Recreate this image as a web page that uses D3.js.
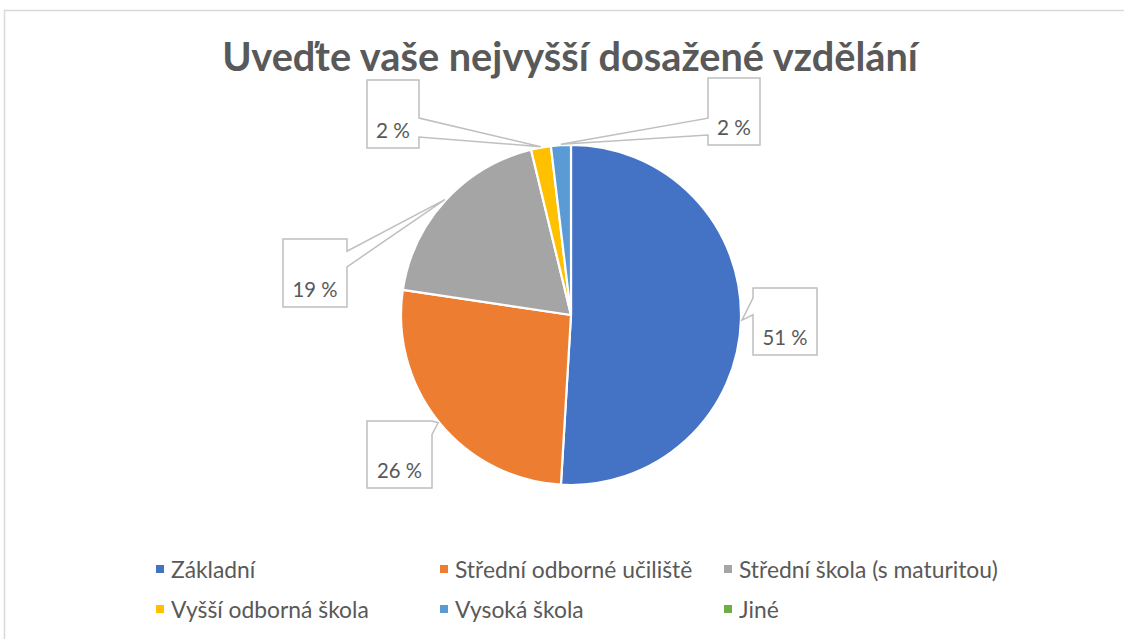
<!DOCTYPE html>
<html>
<head>
<meta charset="utf-8">
<script src="https://cdn.jsdelivr.net/npm/d3@7"></script>
<style>
  html, body { margin: 0; padding: 0; background: #fff; }
  svg { display: block; }
</style>
</head>
<body>
<svg id="chart" width="1124" height="639"></svg>
<script>
// ---- data ----
const title = "Uveďte vaše nejvyšší dosažené vzdělání";
const categories = ["Základní", "Střední odborné učiliště", "Střední škola (s maturitou)",
                    "Vyšší odborná škola", "Vysoká škola", "Jiné"];
const counts = [27, 14, 10, 1, 1, 0];
const colors = ["#4472C4", "#ED7D31", "#A5A5A5", "#FFC000", "#5B9BD5", "#70AD47"];

// ---- layout (callout boxes relative to pie centre) ----
const labelLayout = [
  { dx: 182,  dy: -27,  w: 64, h: 67, side: "left",  f0: 0.15, f1: 0.40 },
  { dx: -204, dy: 106,  w: 65, h: 67, side: "right", f0: 0.00, f1: 0.20 },
  { dx: -288, dy: -76,  w: 64, h: 68, side: "right", f0: 0.18, f1: 0.41 },
  { dx: -204, dy: -235, w: 52, h: 68, side: "right", f0: 0.56, f1: 0.84 },
  { dx: 137,  dy: -237, w: 52, h: 67, side: "left",  f0: 0.60, f1: 0.85 }
];

const W = 1124, H = 639;
const cx = 571, cy = 315, R = 170;
const textColor = "#595959";
const fontFam = "Lato, 'Open Sans', sans-serif";

const svg = d3.select("#chart");
svg.append("rect").attr("width", W).attr("height", H).attr("fill", "#fff");
// chart area border
svg.append("rect").attr("x", 4.5).attr("y", 10.5).attr("width", W + 10).attr("height", H + 10)
  .attr("fill", "none").attr("stroke", "#d9d9d9").attr("stroke-width", 1.5);

function fitFont(sel, target) {
  sel.attr("font-size", 20);
  const w = sel.node().getComputedTextLength();
  const fs = 20 * target / w;
  sel.attr("font-size", fs);
  return fs;
}

// title
const t = svg.append("text").attr("x", 570).attr("y", 71)
  .attr("text-anchor", "middle").attr("font-family", fontFam).attr("font-weight", "bold")
  .attr("fill", textColor).text(title);
fitFont(t, 696);

// pie
const total = d3.sum(counts);
const data = categories.map((c, i) => ({ cat: c, value: counts[i], color: colors[i] }));
const pie = d3.pie().sort(null).value(d => d.value).startAngle(0).endAngle(2 * Math.PI);
const arcs = pie(data);
const arc = d3.arc().innerRadius(0).outerRadius(R);

const g = svg.append("g").attr("transform", `translate(${cx},${cy})`);
g.selectAll("path.slice").data(arcs.filter(a => a.value > 0)).join("path")
  .attr("class", "slice")
  .attr("d", arc)
  .attr("fill", d => d.data.color)
  .attr("stroke", "#fff").attr("stroke-width", 2.2).attr("stroke-linejoin", "round");

// callouts
const pct = d3.format(".0f");
const labeled = arcs.filter(a => a.value > 0);
const lab = svg.append("g");
labeled.forEach((a, i) => {
  const L = labelLayout[i];
  const mid = (a.startAngle + a.endAngle) / 2;
  const tx = cx + (R + 1) * Math.sin(mid), ty = cy - (R + 1) * Math.cos(mid);
  const x = cx + L.dx, y = cy + L.dy, w = L.w, h = L.h;
  let pts;
  if (L.side === "left") {
    pts = [[x, y], [x + w, y], [x + w, y + h], [x, y + h], [x, y + L.f1 * h], [tx, ty], [x, y + L.f0 * h]];
  } else {
    pts = [[x, y], [x + w, y], [x + w, y + L.f0 * h], [tx, ty], [x + w, y + L.f1 * h], [x + w, y + h], [x, y + h]];
  }
  lab.append("path").attr("d", d3.line()(pts) + "Z")
    .attr("fill", "#fff").attr("stroke", "#bfbfbf").attr("stroke-width", 1.5)
    .attr("stroke-linejoin", "miter");
  const label = pct(a.value / total * 100) + " %";
  lab.append("text").attr("x", x + w / 2).attr("y", y + h - 10)
    .attr("text-anchor", "middle").attr("font-family", fontFam).attr("fill", textColor)
    .attr("font-size", 21.5)
    .attr("textLength", label.length > 3 ? 45 : 34).attr("lengthAdjust", "spacingAndGlyphs")
    .text(label);
});

// legend
const legCols = [157, 441, 725];
const legRows = [570, 610];
const leg = svg.append("g");
data.forEach((d, i) => {
  const lx = legCols[i % 3], ly = legRows[Math.floor(i / 3)];
  leg.append("rect").attr("x", lx - 1).attr("y", ly - 5).attr("width", 8).attr("height", 8)
    .attr("fill", d.color);
  leg.append("text").attr("x", lx + 14).attr("y", ly + 8)
    .attr("font-family", fontFam).attr("fill", textColor).text(d.cat);
});
const legTexts = leg.selectAll("text");
const fsLeg = fitFont(d3.select(legTexts.nodes()[2]), 259);
legTexts.attr("font-size", fsLeg);
</script>
</body>
</html>
